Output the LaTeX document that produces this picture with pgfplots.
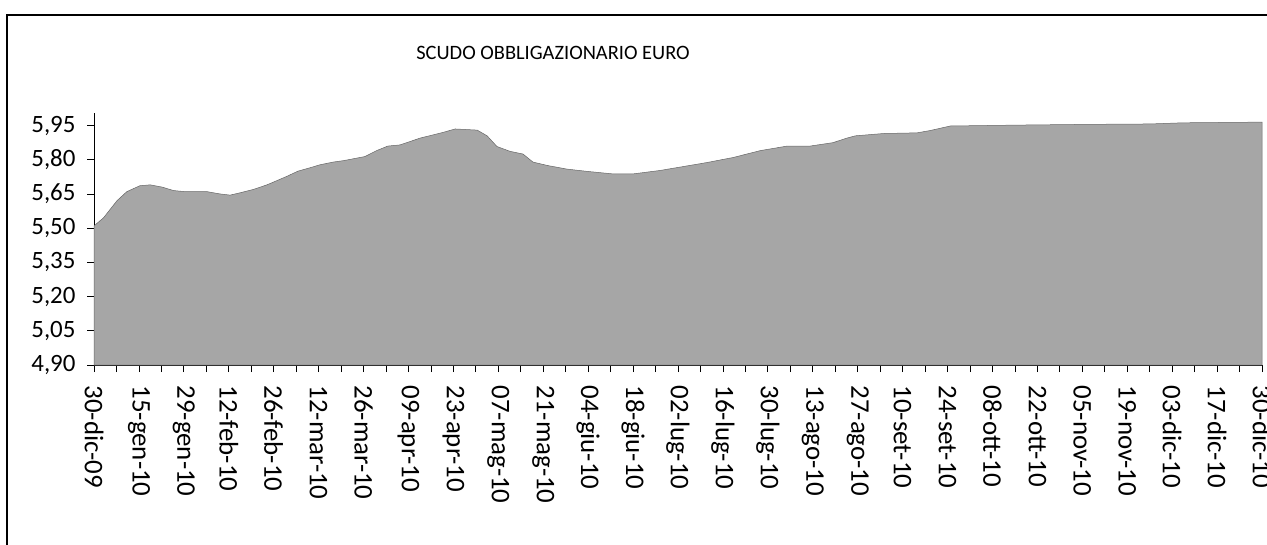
\documentclass[border=0pt]{standalone}
\usepackage{pgfplots}
\pgfplotsset{compat=1.18}
\usepackage{fontspec}
\setmainfont{Carlito}
\definecolor{areagray}{HTML}{A6A6A6}
\begin{document}
\begin{tikzpicture}
\path[use as bounding box] (0bp,0bp) rectangle (1267bp,-545bp);
\draw[line width=1.6bp] (7bp,-545bp) -- (7bp,-15bp) -- (1267bp,-15bp);
\node[font=\fontsize{20.5}{24}\selectfont] at (553bp,-53bp) {SCUDO OBBLIGAZIONARIO EURO};
\begin{axis}[
  at={(94bp,-365bp)}, anchor=south west,
  scale only axis, width=1168bp, height=252bp,
  xmin=0, xmax=26, ymin=4.90, ymax=6.005,
  axis x line=bottom, axis y line=left,
  axis line style={-, line width=0.8bp},
  xtick={0,1,...,26},
  minor x tick num=1,
  xticklabels={30-dic-09,15-gen-10,29-gen-10,12-feb-10,26-feb-10,12-mar-10,26-mar-10,09-apr-10,23-apr-10,07-mag-10,21-mag-10,04-giu-10,18-giu-10,02-lug-10,16-lug-10,30-lug-10,13-ago-10,27-ago-10,10-set-10,24-set-10,08-ott-10,22-ott-10,05-nov-10,19-nov-10,03-dic-10,17-dic-10,30-dic-10},
  ytick={4.90,5.05,5.20,5.35,5.50,5.65,5.80,5.95},
  yticklabels={{4,90},{5,05},{5,20},{5,35},{5,50},{5,65},{5,80},{5,95}},
  tick align=outside,
  x tick style={line width=0.8bp, black},
  y tick style={line width=0.8bp, black},
  minor tick length=7bp,
  major tick length=7bp,
  xticklabel shift=10bp,
  yticklabel shift=8bp,
  xticklabel style={rotate=-90, anchor=west, font=\fontsize{27}{30}\selectfont},
  yticklabel style={font=\fontsize{25}{28}\selectfont},
  clip=false,
]
\addplot[fill=areagray, draw=gray!80!black, line width=0.5bp] coordinates {
(0,5.51) (0.21,5.545) (0.51,5.62) (0.73,5.66) (1.02,5.686) (1.25,5.69)
(1.52,5.68) (1.77,5.665) (2.03,5.66) (2.52,5.66) (2.81,5.65) (3.03,5.645)
(3.25,5.655) (3.55,5.67) (3.85,5.69) (4.03,5.705) (4.29,5.727) (4.54,5.75)
(4.81,5.765) (5.03,5.778) (5.33,5.79) (5.55,5.796) (6.03,5.814) (6.29,5.84)
(6.54,5.86) (6.81,5.865) (7.26,5.895) (7.77,5.92) (8.04,5.935) (8.53,5.93)
(8.75,5.905) (8.97,5.858) (9.26,5.837) (9.55,5.825) (9.77,5.79) (10.09,5.775)
(10.53,5.759) (10.98,5.749) (11.55,5.738) (12.00,5.738) (12.60,5.753) (13.11,5.77)
(13.65,5.788) (14.23,5.81) (14.83,5.84) (15.43,5.86) (15.94,5.86) (16.45,5.875)
(16.76,5.895) (16.95,5.905) (17.57,5.915) (18.32,5.918) (18.61,5.928) (19.06,5.948)
(20.55,5.952) (22.02,5.955) (23.51,5.957) (24.24,5.962) (26,5.965)
} \closedcycle;
\end{axis}
\end{tikzpicture}
\end{document}
